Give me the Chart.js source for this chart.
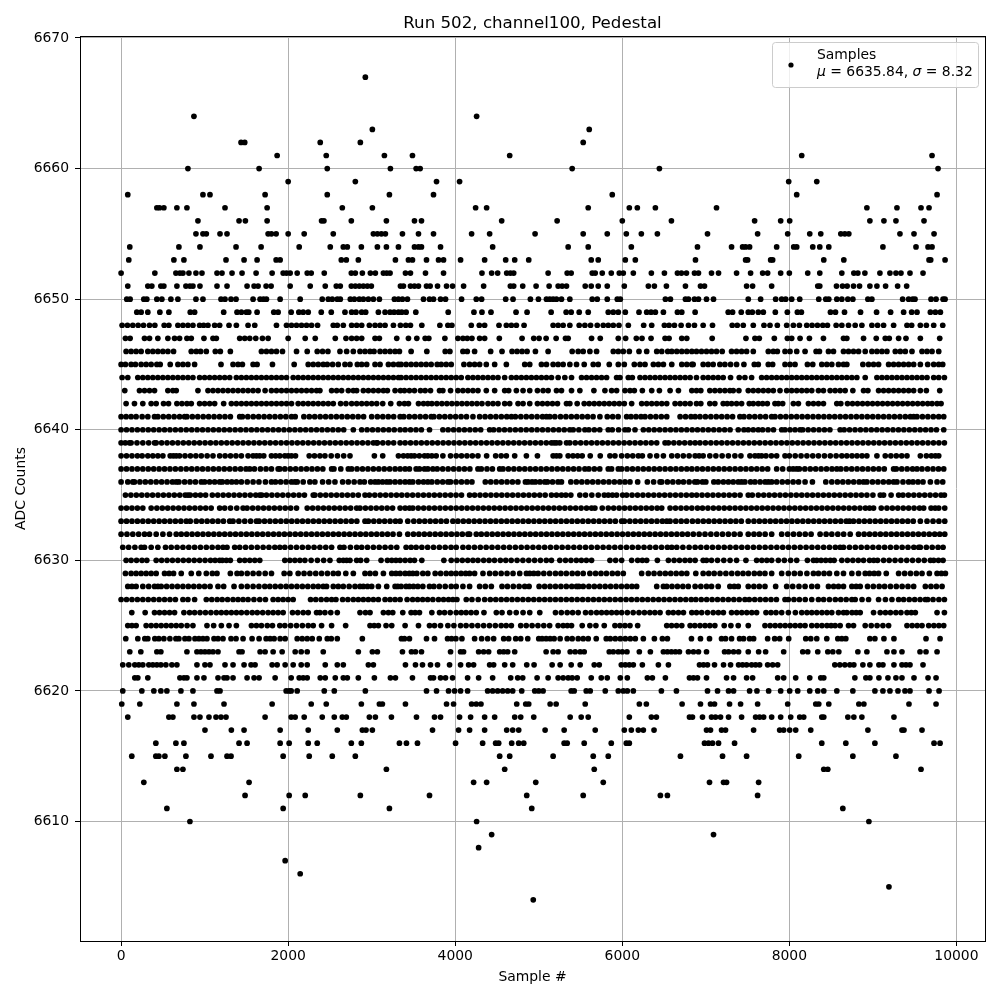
<!DOCTYPE html>
<html>
<head>
<meta charset="utf-8">
<title>Run 502, channel100, Pedestal</title>
<script src="https://cdn.jsdelivr.net/npm/chart.js@4/dist/chart.umd.min.js"></script>
<style>
body { margin: 0; background: #fff; }
canvas { display: block; }
</style>
</head>
<body>
<canvas id="chart" width="1000" height="1000"></canvas>
<script>
"use strict";

const xTicks = [0, 2000, 4000, 6000, 8000, 10000];
const yTicks = [6610, 6620, 6630, 6640, 6650, 6660, 6670];

/* sample numbers, one list per ADC count. */
const s6604 = [4934];
const s6605 = [9192];
const s6606 = [2144];
const s6607 = [1964];
const s6608 = [4280];
const s6609 = [4436, 7092];
const s6610 = [824, 4256, 8952];
const s6611 = [548, 1940, 3212, 4916, 8640];
const s6612 = [1484, 2012, 2204, 2864, 3692, 4856, 5532, 6456, 6540, 7620];
const s6613 = [272, 1532, 4220, 4376, 4964, 5772, 7044, 7212, 7248, 7632];
const s6614 = [668, 740, 3176, 4592, 5664, 8412, 8460, 9576];
const s6615 = [128, 416, 452, 524, 776, 1076, 1268, 1316, 1940, 2252, 2528, 2804, 4532, 4652, 5172, 5652, 5832, 6696, 7200, 7488, 8112, 8760, 9276];
const s6616 = [416, 656, 752, 1412, 1508, 1904, 2012, 2240, 2348, 2756, 2876, 3332, 3416, 3548, 4004, 4328, 4484, 4520, 4676, 4760, 4820, 5304, 5340, 5544, 5868, 6048, 6084, 6984, 7032, 7080, 7152, 7344, 8388, 8676, 9024, 9732, 9804];
const s6617 = [1004, 1320, 1472, 1904, 2240, 2588, 2888, 2932, 3008, 3728, 4040, 4172, 4352, 4616, 4688, 4760, 5076, 5304, 5676, 6024, 6108, 6192, 6252, 6380, 7008, 7056, 7188, 7236, 7572, 7884, 7932, 8004, 8076, 8256, 8940, 9348, 9372, 9588];
const s6618 = [80, 572, 620, 872, 944, 1052, 1136, 1196, 1256, 1724, 2036, 2084, 2192, 2408, 2552, 2648, 2696, 2972, 3044, 3236, 3536, 3752, 3824, 4052, 4184, 4352, 4472, 4712, 4784, 4940, 5376, 5508, 5592, 6084, 6348, 6408, 6804, 6840, 6960, 7068, 7116, 7176, 7272, 7428, 7596, 7644, 7692, 7788, 7896, 8016, 8124, 8172, 8388, 8412, 8700, 8772, 8868, 9252];
const s6619 = [8, 224, 668, 872, 1232, 1808, 2276, 2456, 2876, 3092, 3128, 3404, 3896, 3980, 4196, 4252, 4308, 4736, 4844, 4880, 5136, 5208, 5556, 6204, 6288, 6716, 6936, 7056, 7104, 7284, 7416, 7620, 7980, 8316, 8352, 8472, 8832, 8892, 9432, 9756];
const s6620 = [20, 248, 392, 476, 548, 716, 860, 1148, 1184, 1976, 2012, 2036, 2108, 2432, 2552, 2924, 3656, 3776, 3920, 3992, 4064, 4148, 4388, 4448, 4508, 4568, 4628, 4688, 4796, 4952, 5000, 5052, 5388, 5424, 5568, 5616, 5796, 5952, 6012, 6060, 6132, 6468, 6648, 7020, 7140, 7272, 7332, 7524, 7612, 7752, 7896, 8004, 8100, 8244, 8340, 8412, 8568, 8760, 9024, 9120, 9204, 9300, 9384, 9444, 9672, 9792];
const s6621 = [164, 200, 320, 704, 752, 788, 908, 992, 1160, 1232, 1268, 1340, 1508, 1592, 1652, 1844, 2036, 2132, 2180, 2228, 2384, 2444, 2564, 2660, 2708, 2840, 3032, 3224, 3284, 3488, 3704, 3740, 3824, 3884, 3968, 4148, 4280, 4448, 4664, 4748, 4808, 4980, 5112, 5232, 5292, 5352, 5400, 5460, 5628, 5748, 5820, 5976, 6060, 6300, 6360, 6516, 6804, 6852, 6900, 7008, 7248, 7332, 7488, 7560, 7860, 7932, 8076, 8244, 8376, 8412, 8784, 8916, 8964, 9072, 9180, 9276, 9348, 9492, 9660, 9756];
const s6622 = [20, 92, 164, 212, 260, 332, 380, 428, 476, 536, 608, 668, 908, 1004, 1064, 1244, 1340, 1472, 1556, 1604, 1808, 1868, 1964, 2060, 2156, 2228, 2444, 2588, 2660, 2960, 3020, 3404, 3524, 3608, 3704, 3788, 3932, 4064, 4160, 4220, 4412, 4460, 4592, 4688, 4856, 4944, 5160, 5256, 5388, 5496, 5664, 5724, 5988, 6036, 6084, 6132, 6240, 6432, 6552, 6924, 6972, 7020, 7104, 7212, 7296, 7392, 7440, 7488, 7548, 7596, 7644, 7740, 7800, 7860, 8544, 8604, 8664, 8724, 8772, 8880, 8964, 9072, 9120, 9252, 9348, 9396, 9444, 9600];
const s6623 = [104, 236, 428, 476, 788, 908, 956, 1004, 1052, 1100, 1160, 1412, 1448, 1664, 1724, 1820, 1928, 2084, 2156, 2228, 2420, 2840, 3008, 3068, 3368, 3476, 3524, 3596, 3944, 4064, 4100, 4280, 4340, 4400, 4532, 4580, 4628, 4712, 5088, 5172, 5232, 5376, 5436, 5496, 5544, 5844, 5892, 5952, 6000, 6056, 6204, 6336, 6492, 6540, 6588, 6636, 6684, 6792, 6852, 6912, 7008, 7224, 7272, 7332, 7392, 7508, 7632, 7716, 7932, 8160, 8220, 8340, 8460, 8520, 8592, 8820, 8928, 9168, 9252, 9348, 9564, 9636, 9768];
const s6624 = [56, 200, 284, 320, 404, 452, 512, 584, 656, 692, 764, 812, 884, 932, 980, 1028, 1112, 1160, 1220, 1316, 1376, 1460, 1568, 1652, 1736, 1784, 1832, 1904, 1964, 2108, 2168, 2228, 2288, 2372, 2468, 2516, 2588, 2888, 3356, 3392, 3452, 3656, 3752, 3908, 3956, 4008, 4080, 4232, 4316, 4388, 4460, 4580, 4640, 4724, 4784, 4868, 5000, 5040, 5088, 5136, 5184, 5256, 5340, 5400, 5472, 5532, 5592, 5688, 5808, 5856, 5916, 5976, 6036, 6096, 6156, 6252, 6384, 6480, 6540, 6828, 6936, 7044, 7188, 7236, 7308, 7404, 7452, 7524, 7572, 7740, 7824, 7884, 7992, 8196, 8256, 8328, 8448, 8580, 8628, 8676, 8964, 9024, 9132, 9252, 9636, 9804];
const s6625 = [80, 130, 180, 300, 360, 420, 480, 540, 600, 660, 720, 790, 860, 1028, 1108, 1200, 1292, 1380, 1560, 1620, 1680, 1750, 1812, 1900, 1960, 2030, 2100, 2170, 2240, 2300, 2400, 2520, 2688, 2980, 3030, 3080, 3172, 3240, 3400, 3560, 3692, 3752, 3824, 3912, 3984, 4064, 4130, 4200, 4270, 4340, 4410, 4480, 4550, 4610, 4672, 4784, 4850, 4920, 4990, 5060, 5130, 5232, 5292, 5342, 5392, 5520, 5612, 5684, 5784, 5912, 5972, 6032, 6092, 6184, 6532, 6590, 6650, 6712, 6812, 6868, 6930, 6990, 7048, 7108, 7220, 7300, 7388, 7508, 7708, 7770, 7830, 7890, 7950, 8010, 8070, 8130, 8188, 8268, 8330, 8390, 8450, 8500, 8548, 8608, 8708, 8768, 8908, 8980, 9050, 9120, 9188, 9408, 9470, 9530, 9588, 9668, 9730, 9790, 9848];
const s6626 = [128, 288, 400, 460, 520, 580, 640, 752, 820, 880, 945, 1010, 1075, 1140, 1200, 1260, 1320, 1380, 1440, 1505, 1570, 1630, 1695, 1760, 1820, 1880, 1940, 2052, 2115, 2180, 2240, 2340, 2380, 2440, 2510, 2588, 2860, 2925, 2980, 3140, 3200, 3252, 3372, 3472, 3520, 3572, 3720, 3812, 3872, 3940, 4012, 4072, 4130, 4190, 4252, 4344, 4492, 4560, 4652, 4730, 4812, 4892, 5012, 5200, 5270, 5340, 5405, 5472, 5560, 5625, 5692, 5752, 5812, 5872, 5932, 5992, 6060, 6130, 6200, 6265, 6330, 6390, 6452, 6552, 6610, 6672, 6732, 6832, 6888, 6950, 7020, 7088, 7150, 7210, 7308, 7370, 7430, 7490, 7550, 7608, 7720, 7780, 7840, 7908, 7988, 8072, 8148, 8210, 8268, 8328, 8390, 8450, 8508, 8588, 8648, 8688, 8750, 8800, 8848, 9008, 9088, 9150, 9210, 9275, 9336, 9408, 9460, 9508, 9768, 9856];
const s6627 = [0, 65, 130, 195, 260, 325, 390, 455, 520, 585, 650, 740, 800, 880, 1020, 1085, 1150, 1210, 1275, 1340, 1400, 1460, 1520, 1590, 1660, 1728, 1820, 1880, 1940, 2000, 2060, 2268, 2330, 2395, 2460, 2520, 2572, 2652, 2715, 2780, 2840, 2900, 2960, 3020, 3080, 3160, 3220, 3280, 3340, 3424, 3490, 3550, 3610, 3670, 3732, 3800, 3860, 3920, 3972, 4020, 4132, 4200, 4275, 4352, 4420, 4485, 4550, 4615, 4680, 4745, 4810, 4875, 4940, 5005, 5070, 5135, 5200, 5265, 5330, 5395, 5460, 5525, 5590, 5655, 5720, 5785, 5850, 5915, 5980, 6045, 6110, 6175, 6240, 6305, 6370, 6435, 6500, 6565, 6630, 6695, 6760, 6825, 6880, 6945, 7010, 7075, 7140, 7205, 7270, 7335, 7400, 7468, 7520, 7585, 7650, 7715, 7780, 7845, 7948, 7988, 8055, 8120, 8190, 8268, 8348, 8410, 8480, 8550, 8615, 8680, 8748, 8788, 8870, 8948, 9068, 9150, 9228, 9308, 9368, 9435, 9500, 9565, 9628, 9656, 9720, 9790, 9856];
const s6628 = [80, 130, 180, 260, 330, 400, 440, 480, 545, 610, 675, 740, 805, 870, 935, 1000, 1065, 1160, 1228, 1352, 1440, 1510, 1580, 1650, 1720, 1780, 1845, 1910, 1975, 2040, 2105, 2170, 2235, 2300, 2360, 2420, 2460, 2540, 2600, 2660, 2730, 2800, 2860, 2900, 2950, 3000, 3080, 3180, 3280, 3312, 3352, 3412, 3452, 3500, 3552, 3612, 3692, 3744, 3810, 3880, 3952, 4012, 4092, 4172, 4292, 4360, 4432, 4560, 4625, 4695, 4765, 4832, 4884, 5004, 5070, 5135, 5200, 5265, 5330, 5395, 5452, 5480, 5532, 5600, 5665, 5730, 5795, 5860, 5925, 5990, 6055, 6115, 6172, 6412, 6492, 6532, 6595, 6660, 6725, 6790, 6872, 6940, 7008, 7068, 7148, 7288, 7340, 7388, 7508, 7575, 7640, 7708, 7836, 7968, 8040, 8115, 8188, 8268, 8336, 8468, 8530, 8588, 8648, 8748, 8800, 8848, 8936, 9005, 9075, 9140, 9210, 9280, 9350, 9420, 9488, 9628, 9695, 9760, 9828];
const s6629 = [52, 120, 180, 240, 300, 360, 420, 520, 575, 628, 720, 840, 930, 1020, 1092, 1148, 1308, 1388, 1440, 1510, 1580, 1650, 1725, 1800, 1952, 2020, 2120, 2190, 2260, 2330, 2400, 2470, 2540, 2600, 2690, 2780, 2920, 2980, 3044, 3140, 3240, 3290, 3340, 3400, 3450, 3492, 3540, 3612, 3672, 3760, 3825, 3892, 3952, 4010, 4070, 4125, 4172, 4232, 4332, 4412, 4480, 4550, 4620, 4692, 4772, 4852, 4892, 4940, 4992, 5060, 5130, 5200, 5265, 5330, 5400, 5465, 5532, 5612, 5680, 5745, 5810, 5880, 5945, 6012, 6232, 6312, 6380, 6450, 6515, 6580, 6645, 6710, 6772, 6880, 6968, 7035, 7100, 7170, 7240, 7310, 7380, 7445, 7510, 7580, 7645, 7708, 7788, 7908, 7988, 8060, 8130, 8210, 8288, 8348, 8415, 8480, 8568, 8648, 8748, 8828, 8908, 8960, 9015, 9068, 9160, 9308, 9380, 9450, 9520, 9588, 9676, 9768, 9820, 9868];
const s6630 = [60, 120, 185, 250, 308, 420, 485, 550, 615, 680, 745, 810, 875, 940, 1005, 1070, 1125, 1180, 1212, 1260, 1308, 1420, 1480, 1540, 1600, 1660, 1960, 2020, 2080, 2140, 2200, 2275, 2350, 2425, 2500, 2612, 2660, 2700, 2740, 2820, 2868, 2940, 3112, 3188, 3240, 3290, 3340, 3400, 3460, 3512, 3600, 3864, 3952, 4020, 4085, 4150, 4212, 4272, 4340, 4405, 4470, 4540, 4605, 4670, 4740, 4810, 4880, 4950, 5020, 5090, 5152, 5252, 5320, 5385, 5450, 5510, 5570, 5632, 5852, 5920, 5992, 6112, 6184, 6240, 6292, 6420, 6552, 6620, 6685, 6750, 6810, 6872, 6968, 7008, 7068, 7140, 7215, 7290, 7368, 7480, 7608, 7670, 7730, 7788, 7868, 7940, 8015, 8088, 8216, 8288, 8328, 8380, 8435, 8490, 8536, 8628, 8695, 8760, 8825, 8888, 8960, 9010, 9056, 9128, 9195, 9265, 9335, 9405, 9475, 9545, 9615, 9688, 9728, 9785, 9840];
const s6631 = [20, 90, 165, 240, 280, 360, 440, 532, 600, 670, 740, 810, 880, 950, 1020, 1090, 1160, 1220, 1268, 1360, 1420, 1490, 1560, 1630, 1700, 1770, 1840, 1900, 1960, 2030, 2100, 2170, 2240, 2310, 2380, 2450, 2520, 2620, 2668, 2745, 2820, 2880, 2950, 3020, 3090, 3160, 3230, 3300, 3412, 3472, 3532, 3600, 3670, 3740, 3810, 3880, 3950, 4012, 4092, 4160, 4230, 4300, 4370, 4440, 4510, 4580, 4650, 4720, 4790, 4860, 4930, 5000, 5070, 5140, 5210, 5280, 5350, 5420, 5490, 5560, 5630, 5700, 5770, 5840, 5910, 5980, 6050, 6120, 6190, 6260, 6330, 6400, 6470, 6540, 6592, 6652, 6725, 6800, 6872, 6940, 7010, 7080, 7150, 7220, 7290, 7360, 7430, 7500, 7570, 7640, 7710, 7780, 7850, 7920, 7990, 8060, 8130, 8200, 8270, 8340, 8410, 8480, 8550, 8608, 8648, 8720, 8790, 8860, 8930, 9000, 9070, 9140, 9210, 9280, 9350, 9420, 9490, 9548, 9568, 9640, 9710, 9780, 9840];
const s6632 = [0, 70, 140, 210, 280, 340, 420, 500, 580, 660, 720, 785, 850, 915, 980, 1045, 1110, 1175, 1240, 1305, 1370, 1435, 1500, 1565, 1630, 1695, 1760, 1825, 1890, 1955, 2020, 2085, 2150, 2215, 2280, 2345, 2410, 2475, 2540, 2605, 2670, 2735, 2800, 2865, 2930, 2995, 3060, 3125, 3190, 3255, 3332, 3432, 3500, 3565, 3630, 3695, 3760, 3825, 3890, 3955, 4020, 4085, 4152, 4172, 4252, 4312, 4378, 4443, 4508, 4573, 4638, 4703, 4768, 4833, 4898, 4963, 5028, 5093, 5158, 5223, 5288, 5353, 5418, 5483, 5548, 5613, 5678, 5743, 5808, 5873, 5938, 6003, 6068, 6133, 6198, 6263, 6328, 6393, 6458, 6523, 6588, 6653, 6718, 6783, 6850, 6920, 6990, 7060, 7130, 7200, 7270, 7340, 7410, 7508, 7576, 7640, 7710, 7788, 7908, 7980, 8050, 8120, 8190, 8260, 8368, 8440, 8508, 8580, 8650, 8728, 8828, 8895, 8960, 9025, 9090, 9155, 9220, 9285, 9350, 9415, 9480, 9545, 9610, 9675, 9740, 9800, 9860];
const s6633 = [0, 65, 130, 195, 260, 325, 390, 455, 520, 585, 650, 715, 780, 828, 900, 965, 1030, 1095, 1160, 1225, 1300, 1340, 1410, 1480, 1550, 1620, 1652, 1717, 1782, 1847, 1912, 1977, 2042, 2107, 2172, 2237, 2302, 2367, 2432, 2497, 2562, 2627, 2692, 2757, 2822, 2920, 2960, 3025, 3090, 3155, 3220, 3285, 3340, 3432, 3504, 3570, 3635, 3700, 3765, 3830, 3895, 3972, 4032, 4097, 4162, 4227, 4292, 4357, 4422, 4487, 4552, 4617, 4682, 4747, 4812, 4877, 4942, 5007, 5072, 5137, 5202, 5267, 5332, 5397, 5462, 5527, 5592, 5657, 5722, 5787, 5852, 5917, 5992, 6024, 6090, 6155, 6220, 6285, 6350, 6415, 6480, 6532, 6572, 6640, 6705, 6770, 6840, 6905, 6970, 7035, 7100, 7165, 7230, 7295, 7360, 7425, 7508, 7576, 7641, 7706, 7771, 7836, 7901, 7966, 8031, 8096, 8161, 8226, 8291, 8356, 8421, 8486, 8551, 8616, 8681, 8720, 8768, 8833, 8898, 8963, 9028, 9093, 9158, 9223, 9288, 9353, 9418, 9483, 9568, 9648, 9720, 9790, 9860];
const s6634 = [0, 65, 130, 195, 260, 360, 428, 493, 558, 623, 688, 753, 818, 883, 948, 1013, 1078, 1180, 1240, 1310, 1385, 1460, 1508, 1575, 1640, 1705, 1770, 1835, 1900, 1965, 2030, 2100, 2228, 2293, 2358, 2423, 2488, 2553, 2618, 2683, 2748, 2820, 2860, 2925, 2990, 3055, 3120, 3185, 3250, 3340, 3400, 3452, 3492, 3557, 3622, 3687, 3752, 3817, 3882, 3947, 4012, 4077, 4142, 4207, 4272, 4337, 4402, 4467, 4532, 4597, 4662, 4727, 4792, 4857, 4922, 4987, 5052, 5117, 5182, 5247, 5312, 5377, 5442, 5507, 5572, 5632, 5672, 5760, 5832, 5897, 5962, 6027, 6092, 6157, 6222, 6287, 6352, 6417, 6472, 6572, 6637, 6702, 6767, 6832, 6900, 6960, 7025, 7090, 7155, 7220, 7285, 7350, 7415, 7480, 7545, 7610, 7675, 7740, 7805, 7870, 7935, 8000, 8065, 8130, 8195, 8260, 8325, 8390, 8455, 8520, 8585, 8650, 8715, 8780, 8845, 8910, 8960, 9008, 9100, 9168, 9233, 9298, 9363, 9428, 9493, 9558, 9608, 9696, 9745, 9788, 9860];
const s6635 = [52, 117, 182, 247, 312, 377, 442, 507, 572, 637, 702, 767, 800, 828, 890, 950, 1012, 1092, 1157, 1222, 1287, 1352, 1417, 1482, 1547, 1612, 1660, 1684, 1740, 1805, 1870, 1935, 2000, 2065, 2130, 2195, 2300, 2320, 2385, 2450, 2515, 2580, 2645, 2710, 2775, 2840, 2920, 2972, 3037, 3102, 3167, 3232, 3297, 3360, 3425, 3490, 3555, 3620, 3685, 3750, 3815, 3880, 3945, 4010, 4075, 4172, 4232, 4297, 4362, 4427, 4492, 4557, 4622, 4687, 4752, 4817, 4882, 4947, 5012, 5077, 5152, 5212, 5272, 5324, 5384, 5492, 5560, 5635, 5712, 5784, 5832, 5882, 5932, 6004, 6052, 6117, 6182, 6247, 6312, 6377, 6442, 6507, 6572, 6637, 6702, 6767, 6832, 6890, 6955, 7020, 7085, 7150, 7215, 7280, 7345, 7410, 7508, 7556, 7628, 7693, 7758, 7823, 7888, 7953, 8018, 8083, 8148, 8213, 8278, 8343, 8408, 8473, 8538, 8603, 8668, 8733, 8798, 8863, 8928, 9000, 9088, 9128, 9218, 9308, 9360, 9425, 9490, 9555, 9620, 9685, 9750, 9815, 9856];
const s6636 = [0, 80, 140, 160, 225, 290, 355, 420, 485, 550, 615, 660, 692, 760, 825, 890, 960, 1000, 1060, 1120, 1180, 1212, 1270, 1325, 1380, 1440, 1510, 1580, 1650, 1728, 1800, 1848, 1910, 1975, 2040, 2080, 2108, 2180, 2260, 2320, 2412, 2485, 2560, 2652, 2720, 2790, 2860, 2912, 2988, 3040, 3080, 3130, 3180, 3220, 3280, 3340, 3400, 3452, 3492, 3560, 3620, 3672, 3720, 3785, 3850, 3912, 3944, 4010, 4075, 4140, 4200, 4360, 4425, 4490, 4555, 4620, 4685, 4750, 4840, 4872, 4920, 4960, 5015, 5072, 5104, 5165, 5230, 5272, 5384, 5450, 5515, 5580, 5645, 5710, 5775, 5840, 5905, 5970, 6032, 6092, 6184, 6300, 6375, 6452, 6472, 6540, 6605, 6672, 6732, 6800, 6868, 6900, 6960, 7000, 7096, 7148, 7210, 7270, 7328, 7388, 7428, 7468, 7536, 7588, 7650, 7710, 7748, 7788, 7848, 7915, 7980, 8045, 8110, 8188, 8276, 8436, 8508, 8575, 8640, 8705, 8770, 8835, 8888, 8928, 8995, 9060, 9125, 9190, 9248, 9288, 9360, 9428, 9480, 9540, 9600, 9688, 9768, 9836];
const s6637 = [0, 65, 130, 195, 260, 325, 390, 455, 520, 585, 650, 715, 780, 845, 910, 975, 1040, 1105, 1170, 1235, 1300, 1365, 1430, 1495, 1540, 1596, 1668, 1735, 1800, 1880, 1900, 1960, 2025, 2090, 2155, 2220, 2285, 2350, 2415, 2520, 2548, 2630, 2720, 2760, 2825, 2890, 2955, 3020, 3085, 3150, 3215, 3280, 3340, 3400, 3452, 3532, 3572, 3632, 3672, 3732, 3784, 3850, 3915, 3980, 4045, 4110, 4175, 4272, 4312, 4380, 4445, 4532, 4572, 4637, 4702, 4767, 4832, 4897, 4962, 5027, 5092, 5157, 5222, 5287, 5352, 5417, 5482, 5552, 5600, 5665, 5730, 5832, 5872, 5952, 5992, 6057, 6122, 6187, 6252, 6317, 6382, 6447, 6512, 6577, 6642, 6707, 6772, 6832, 6896, 6960, 7025, 7090, 7155, 7220, 7285, 7350, 7415, 7480, 7545, 7610, 7675, 7740, 7848, 7920, 8000, 8045, 8088, 8120, 8185, 8250, 8315, 8380, 8445, 8510, 8568, 8616, 8681, 8746, 8811, 8876, 8941, 9006, 9071, 9136, 9248, 9280, 9345, 9410, 9475, 9528, 9588, 9655, 9720, 9785, 9848];
const s6638 = [0, 65, 130, 195, 252, 320, 380, 440, 500, 588, 625, 660, 700, 765, 830, 895, 960, 1030, 1100, 1180, 1245, 1310, 1375, 1440, 1520, 1580, 1620, 1660, 1708, 1800, 1850, 1900, 1960, 2000, 2040, 2088, 2252, 2315, 2380, 2440, 2515, 2590, 2665, 2740, 3032, 3132, 3320, 3380, 3430, 3472, 3512, 3570, 3632, 3672, 3720, 3772, 3852, 3944, 4012, 4075, 4140, 4205, 4272, 4376, 4484, 4550, 4612, 4712, 4852, 4984, 5172, 5212, 5252, 5352, 5410, 5465, 5520, 5616, 5736, 5852, 5912, 5992, 6060, 6125, 6192, 6240, 6332, 6412, 6492, 6592, 6660, 6730, 6800, 6872, 6920, 6968, 7048, 7120, 7195, 7270, 7348, 7420, 7528, 7588, 7630, 7668, 7720, 7785, 7848, 7948, 8000, 8070, 8140, 8210, 8280, 8348, 8420, 8490, 8560, 8628, 8688, 8750, 8810, 8870, 8928, 9048, 9148, 9215, 9280, 9345, 9408, 9568, 9640, 9700, 9748, 9788];
const s6639 = [0, 50, 100, 120, 190, 260, 330, 400, 420, 485, 550, 615, 680, 745, 810, 875, 940, 1005, 1070, 1135, 1200, 1265, 1330, 1395, 1460, 1525, 1590, 1655, 1720, 1785, 1850, 1915, 1980, 2045, 2110, 2175, 2240, 2305, 2370, 2435, 2500, 2565, 2630, 2695, 2760, 2825, 2890, 2955, 3020, 3060, 3068, 3133, 3198, 3263, 3340, 3400, 3465, 3530, 3595, 3660, 3725, 3790, 3855, 3920, 3985, 4050, 4115, 4180, 4245, 4310, 4375, 4440, 4505, 4570, 4635, 4700, 4765, 4830, 4895, 4960, 5025, 5090, 5152, 5184, 5212, 5252, 5332, 5372, 5437, 5502, 5567, 5632, 5697, 5762, 5827, 5892, 5957, 6022, 6087, 6152, 6217, 6282, 6347, 6412, 6512, 6552, 6617, 6682, 6747, 6812, 6872, 6930, 6995, 7060, 7125, 7190, 7255, 7320, 7385, 7450, 7515, 7580, 7645, 7710, 7775, 7840, 7905, 7970, 8035, 8100, 8165, 8230, 8295, 8360, 8425, 8490, 8555, 8620, 8685, 8750, 8815, 8880, 8945, 9010, 9075, 9140, 9205, 9270, 9335, 9400, 9465, 9530, 9595, 9660, 9725, 9790, 9856];
const s6640 = [0, 65, 130, 195, 260, 325, 390, 455, 520, 585, 650, 715, 780, 845, 910, 975, 1040, 1105, 1170, 1235, 1300, 1365, 1430, 1495, 1560, 1625, 1690, 1755, 1820, 1885, 1950, 2015, 2080, 2145, 2210, 2275, 2340, 2405, 2470, 2535, 2600, 2665, 2780, 2880, 2945, 3010, 3075, 3140, 3205, 3270, 3340, 3400, 3465, 3530, 3595, 3692, 3852, 3915, 3980, 4045, 4110, 4175, 4240, 4305, 4412, 4460, 4525, 4590, 4655, 4720, 4785, 4850, 4915, 4980, 5045, 5110, 5175, 5240, 5305, 5372, 5412, 5480, 5552, 5600, 5665, 5730, 5832, 5880, 5955, 6032, 6072, 6152, 6252, 6317, 6382, 6447, 6512, 6577, 6642, 6707, 6772, 6837, 6900, 6965, 7030, 7095, 7160, 7225, 7290, 7388, 7456, 7508, 7568, 7628, 7680, 7745, 7810, 7908, 7948, 8008, 8068, 8128, 8160, 8225, 8290, 8355, 8420, 8485, 8608, 8656, 8721, 8786, 8851, 8916, 8981, 9046, 9111, 9176, 9241, 9306, 9371, 9436, 9501, 9566, 9631, 9696, 9761, 9848];
const s6641 = [0, 60, 120, 180, 252, 320, 400, 440, 505, 570, 635, 700, 760, 788, 853, 918, 983, 1048, 1113, 1178, 1243, 1308, 1420, 1452, 1517, 1582, 1647, 1712, 1777, 1842, 1907, 1972, 2040, 2084, 2188, 2253, 2318, 2383, 2448, 2513, 2578, 2643, 2708, 2773, 2838, 2903, 3000, 3068, 3133, 3198, 3263, 3340, 3384, 3450, 3515, 3580, 3645, 3712, 3744, 3810, 3875, 3940, 4005, 4070, 4135, 4212, 4292, 4357, 4422, 4487, 4552, 4617, 4672, 4720, 4785, 4850, 4915, 4980, 5045, 5092, 5132, 5192, 5260, 5325, 5390, 5455, 5520, 5585, 5650, 5732, 5820, 5885, 5950, 6052, 6104, 6164, 6224, 6272, 6337, 6402, 6467, 6532, 6692, 6757, 6822, 6872, 6930, 6995, 7060, 7125, 7190, 7255, 7320, 7408, 7456, 7521, 7586, 7651, 7716, 7788, 7828, 7893, 7958, 8023, 8088, 8153, 8218, 8283, 8348, 8413, 8478, 8543, 8608, 8673, 8738, 8803, 8868, 8933, 8998, 9063, 9128, 9193, 9258, 9323, 9388, 9448, 9488, 9528, 9593, 9658, 9723, 9788, 9848];
const s6642 = [60, 160, 260, 360, 420, 508, 568, 668, 728, 788, 840, 940, 1000, 1060, 1120, 1228, 1320, 1380, 1440, 1500, 1560, 1620, 1680, 1740, 1800, 1860, 1920, 1980, 2040, 2120, 2180, 2240, 2300, 2360, 2420, 2480, 2540, 2628, 2692, 2760, 2820, 2880, 2940, 3000, 3060, 3132, 3228, 3332, 3392, 3440, 3560, 3620, 3672, 3720, 3780, 3840, 3900, 3960, 4020, 4080, 4140, 4200, 4260, 4320, 4392, 4452, 4512, 4592, 4652, 4752, 4812, 4892, 4984, 5044, 5104, 5164, 5224, 5332, 5372, 5460, 5544, 5604, 5664, 5724, 5784, 5844, 5904, 5964, 6024, 6112, 6232, 6292, 6352, 6412, 6472, 6532, 6632, 6692, 6752, 6812, 6888, 6940, 7048, 7108, 7208, 7256, 7308, 7368, 7428, 7520, 7568, 7628, 7680, 7736, 7828, 7868, 7920, 8048, 8108, 8228, 8288, 8348, 8408, 8568, 8616, 8696, 8756, 8816, 8876, 8936, 8996, 9056, 9116, 9176, 9236, 9296, 9356, 9416, 9476, 9536, 9596, 9656, 9708, 9768, 9816];
const s6643 = [44, 220, 280, 340, 400, 560, 620, 660, 920, 1040, 1100, 1160, 1220, 1280, 1340, 1400, 1460, 1520, 1580, 1640, 1724, 1800, 1860, 1920, 1980, 2040, 2100, 2160, 2220, 2280, 2340, 2380, 2520, 2580, 2640, 2720, 2780, 2820, 2900, 2960, 3020, 3080, 3140, 3188, 3280, 3344, 3392, 3452, 3512, 3584, 3640, 3704, 3812, 3852, 3944, 4032, 4092, 4152, 4212, 4272, 4372, 4472, 4592, 4640, 4732, 4812, 4892, 4984, 5052, 5112, 5212, 5272, 5392, 5492, 5660, 5792, 5872, 5932, 6032, 6092, 6144, 6240, 6352, 6444, 6572, 6672, 6832, 6888, 6940, 7048, 7108, 7168, 7228, 7288, 7328, 7396, 7508, 7568, 7628, 7688, 7748, 7808, 7888, 7968, 8028, 8088, 8148, 8208, 8268, 8348, 8408, 8488, 8548, 8608, 8668, 8760, 8888, 8940, 9068, 9128, 9188, 9248, 9308, 9368, 9428, 9488, 9568, 9640, 9800];
const s6644 = [12, 80, 200, 260, 320, 380, 440, 500, 560, 620, 680, 740, 800, 860, 940, 1000, 1060, 1120, 1180, 1240, 1300, 1380, 1440, 1500, 1560, 1620, 1680, 1740, 1800, 1860, 1920, 1980, 2060, 2120, 2180, 2240, 2300, 2360, 2420, 2480, 2540, 2600, 2660, 2720, 2780, 2840, 2900, 2960, 3020, 3080, 3140, 3200, 3260, 3320, 3352, 3412, 3472, 3532, 3592, 3652, 3712, 3772, 3832, 3892, 3952, 4012, 4072, 4152, 4212, 4272, 4332, 4392, 4452, 4512, 4592, 4672, 4732, 4792, 4852, 4912, 4972, 5032, 5092, 5152, 5232, 5312, 5392, 5512, 5572, 5632, 5692, 5752, 5812, 5932, 5972, 6072, 6120, 6212, 6272, 6332, 6392, 6452, 6512, 6572, 6632, 6692, 6752, 6812, 6888, 6968, 7028, 7088, 7148, 7208, 7296, 7400, 7468, 7548, 7668, 7728, 7788, 7848, 7908, 7968, 8028, 8088, 8148, 8208, 8268, 8328, 8388, 8448, 8508, 8568, 8628, 8688, 8748, 8808, 8908, 9048, 9108, 9168, 9228, 9288, 9348, 9408, 9468, 9528, 9588, 9648, 9728, 9788, 9856];
const s6645 = [0, 52, 120, 172, 240, 300, 360, 428, 468, 588, 680, 740, 800, 880, 1196, 1340, 1400, 1452, 1580, 1628, 1812, 2072, 2240, 2300, 2360, 2420, 2468, 2532, 2600, 2680, 2740, 2828, 2880, 2940, 3040, 3100, 3200, 3260, 3320, 3352, 3412, 3472, 3532, 3592, 3652, 3712, 3784, 3832, 3892, 3952, 4104, 4172, 4232, 4292, 4372, 4472, 4612, 4832, 4892, 5032, 5092, 5172, 5232, 5292, 5372, 5452, 5544, 5652, 5712, 5844, 5952, 6024, 6144, 6212, 6272, 6372, 6432, 6492, 6592, 6712, 6772, 6832, 6848, 6968, 7028, 7088, 7168, 7228, 7296, 7368, 7456, 7580, 7628, 7748, 7800, 7948, 8008, 8068, 8216, 8280, 8388, 8448, 8508, 8588, 8648, 8688, 8880, 8948, 9008, 9068, 9188, 9248, 9308, 9368, 9428, 9488, 9568, 9656, 9728, 9788, 9836];
const s6646 = [60, 120, 180, 240, 320, 380, 440, 500, 560, 628, 840, 900, 952, 1020, 1128, 1188, 1308, 1680, 1740, 1800, 1860, 1932, 2100, 2228, 2348, 2412, 2476, 2620, 2700, 2780, 2860, 2920, 2980, 3028, 3100, 3160, 3220, 3280, 3332, 3472, 3660, 3880, 3936, 4092, 4144, 4232, 4424, 4560, 4680, 4740, 4800, 4860, 4960, 5112, 5400, 5472, 5532, 5612, 5692, 5892, 5952, 6012, 6084, 6200, 6292, 6412, 6472, 6544, 6592, 6652, 6712, 6772, 6832, 6888, 6948, 7008, 7068, 7128, 7196, 7308, 7368, 7428, 7488, 7568, 7748, 7808, 7856, 7948, 8008, 8088, 8188, 8320, 8360, 8468, 8528, 8648, 8708, 8768, 8828, 8908, 8988, 9048, 9108, 9168, 9268, 9328, 9388, 9468, 9588, 9648, 9708, 9788];
const s6647 = [52, 108, 280, 340, 440, 560, 640, 700, 788, 840, 992, 1100, 1140, 1420, 1480, 1540, 1612, 1692, 1760, 2000, 2204, 2324, 2564, 2692, 2760, 2820, 2880, 3040, 3092, 3300, 3440, 3540, 3640, 3684, 3876, 4032, 4092, 4144, 4200, 4292, 4352, 4528, 4800, 4940, 5004, 5088, 5208, 5320, 5352, 5632, 5736, 5952, 6040, 6168, 6236, 6344, 6512, 6560, 6712, 6772, 7076, 7480, 7588, 7640, 7820, 7976, 8028, 8128, 8240, 8408, 8648, 8688, 8888, 9040, 9148, 9196, 9308, 9396, 9568, 9800];
const s6648 = [12, 76, 140, 204, 268, 340, 404, 516, 572, 680, 740, 800, 860, 940, 988, 1040, 1120, 1180, 1292, 1380, 1520, 1600, 1860, 1980, 2040, 2100, 2160, 2220, 2280, 2352, 2540, 2588, 2660, 2760, 2820, 2880, 2972, 3040, 3100, 3160, 3260, 3344, 3408, 3464, 3600, 3816, 3912, 3960, 4192, 4288, 4352, 4524, 4612, 4672, 4732, 4824, 5172, 5232, 5292, 5372, 5484, 5552, 5620, 5700, 5772, 5832, 5892, 5960, 6072, 6256, 6352, 6504, 6560, 6624, 6704, 6792, 6864, 6968, 7080, 7316, 7376, 7448, 7568, 7696, 7768, 7856, 7968, 8048, 8120, 8208, 8272, 8336, 8400, 8456, 8560, 8628, 8708, 8788, 8868, 8988, 9056, 9128, 9248, 9408, 9464, 9568, 9640, 9728, 9836];
const s6649 = [188, 240, 320, 464, 572, 828, 880, 1228, 1388, 1440, 1500, 1528, 1628, 1828, 1880, 2036, 2128, 2180, 2240, 2396, 2516, 2680, 2760, 2812, 2880, 2928, 3080, 3160, 3220, 3268, 3320, 3360, 3412, 3528, 3916, 4224, 4320, 4428, 4728, 4860, 5148, 5328, 5388, 5484, 5592, 5832, 5892, 5952, 6036, 6200, 6292, 6344, 6396, 6492, 6660, 6712, 6872, 7268, 7320, 7424, 7508, 7556, 7628, 7688, 7832, 7976, 8096, 8144, 8492, 8552, 8660, 8852, 9044, 9212, 9368, 9464, 9528, 9688, 9748, 9808];
const s6650 = [68, 108, 272, 308, 428, 488, 596, 680, 896, 980, 1196, 1244, 1316, 1376, 1580, 1664, 1704, 1740, 1904, 2144, 2408, 2480, 2528, 2588, 2624, 2744, 2792, 2852, 2900, 2960, 3020, 3092, 3272, 3320, 3368, 3428, 3620, 3692, 3740, 3824, 3884, 4076, 4252, 4316, 4604, 4692, 4900, 4996, 5092, 5132, 5172, 5212, 5272, 5372, 5640, 5700, 5820, 5940, 5976, 6516, 6576, 6756, 6792, 6864, 6912, 7008, 7092, 7508, 7656, 7836, 7908, 7956, 8028, 8124, 8352, 8436, 8472, 8568, 8628, 8700, 8760, 8940, 8988, 9356, 9428, 9476, 9504, 9696, 9756, 9840, 9864];
const s6651 = [80, 320, 368, 476, 512, 668, 776, 824, 860, 944, 1148, 1268, 1508, 1592, 1640, 1736, 1796, 2024, 2264, 2444, 2576, 2624, 2756, 2804, 2852, 2900, 2948, 2996, 3344, 3380, 3464, 3512, 3560, 3656, 3700, 3788, 3896, 3968, 4100, 4340, 4660, 4700, 4808, 4968, 5124, 5232, 5280, 5332, 5556, 5628, 5712, 5820, 6024, 6312, 6384, 6528, 6756, 6936, 6984, 7488, 7560, 7788, 8340, 8364, 8564, 8636, 8692, 8768, 8840, 8964, 9048, 9152, 9296, 9404];
const s6652 = [0, 404, 656, 704, 740, 812, 896, 968, 1148, 1208, 1328, 1448, 1616, 1808, 1940, 1980, 2024, 2108, 2228, 2276, 2432, 2756, 2804, 2888, 2984, 3044, 3140, 3180, 3220, 3404, 3464, 3644, 3860, 4320, 4436, 4508, 4616, 4660, 4700, 5112, 5340, 5388, 5640, 5676, 5760, 5868, 5964, 6012, 6132, 6348, 6504, 6660, 6708, 6768, 6864, 6912, 7068, 7152, 7368, 7536, 7680, 7740, 7896, 8000, 8220, 8364, 8628, 8772, 8820, 8904, 9084, 9204, 9276, 9336, 9444, 9600];
const s6653 = [92, 632, 752, 1256, 1472, 1628, 1856, 1904, 2636, 2696, 2840, 3284, 3440, 3488, 3656, 3800, 3860, 4064, 4352, 4604, 4712, 4880, 5628, 5712, 6036, 6156, 6876, 7476, 7500, 7776, 7800, 8412, 8652, 9672, 9692, 9864];
const s6654 = [104, 692, 944, 1376, 1676, 2132, 2504, 2660, 2708, 2876, 3068, 3176, 3320, 3512, 3560, 3596, 3824, 4448, 5352, 5592, 6108, 6900, 7308, 7440, 7476, 7524, 7848, 8052, 8088, 8280, 8364, 8472, 9120, 9516, 9660, 9708];
const s6655 = [896, 980, 1020, 1184, 1268, 1760, 1800, 1856, 2000, 2192, 2540, 3020, 3068, 3116, 3164, 3368, 3560, 3740, 4196, 4412, 4956, 5532, 5820, 6048, 6228, 6420, 7020, 7620, 7980, 8244, 8376, 8616, 8664, 8712, 9324, 9492, 9732];
const s6656 = [920, 1412, 1488, 1748, 2400, 2428, 2756, 3176, 3512, 3596, 4556, 5220, 6000, 6588, 7584, 7896, 8004, 8964, 9132, 9276, 9612];
const s6657 = [428, 460, 512, 668, 788, 1244, 1748, 2648, 3008, 4244, 4376, 5592, 6084, 6180, 6396, 7128, 8928, 9288, 9576, 9672];
const s6658 = [80, 980, 1064, 1724, 2468, 3212, 3740, 5880, 8088, 9768];
const s6659 = [2000, 2804, 3776, 4052, 7992, 8328];
const s6660 = [800, 1652, 2468, 3224, 3532, 3580, 5400, 6444, 9780];
const s6661 = [1868, 2456, 3152, 3488, 4652, 8148, 9708];
const s6662 = [1436, 1480, 2384, 2864, 5532];
const s6663 = [3008, 5604];
const s6664 = [872, 4256];
const s6667 = [2924];

const rows = [
    [6604, s6604], [6605, s6605], [6606, s6606], [6607, s6607], [6608, s6608], [6609, s6609],
    [6610, s6610], [6611, s6611], [6612, s6612], [6613, s6613], [6614, s6614], [6615, s6615],
    [6616, s6616], [6617, s6617], [6618, s6618], [6619, s6619], [6620, s6620], [6621, s6621],
    [6622, s6622], [6623, s6623], [6624, s6624], [6625, s6625], [6626, s6626], [6627, s6627],
    [6628, s6628], [6629, s6629], [6630, s6630], [6631, s6631], [6632, s6632], [6633, s6633],
    [6634, s6634], [6635, s6635], [6636, s6636], [6637, s6637], [6638, s6638], [6639, s6639],
    [6640, s6640], [6641, s6641], [6642, s6642], [6643, s6643], [6644, s6644], [6645, s6645],
    [6646, s6646], [6647, s6647], [6648, s6648], [6649, s6649], [6650, s6650], [6651, s6651],
    [6652, s6652], [6653, s6653], [6654, s6654], [6655, s6655], [6656, s6656], [6657, s6657],
    [6658, s6658], [6659, s6659], [6660, s6660], [6661, s6661], [6662, s6662], [6663, s6663],
    [6664, s6664], [6667, s6667],
];

const points = rows.flatMap(([adc, list]) => list.map(x => ({ x: x, y: adc })));

const font = 'DejaVu Sans';

/* frame, legend and title placement, matplotlib style. */
const framePlugin = {
    id: 'frame',
    afterLayout(chart) {
        chart.titleBlock.left = chart.chartArea.left;
        chart.titleBlock.right = chart.chartArea.right;
    },
    afterDraw(chart) {
        const { ctx, chartArea: a } = chart;
        ctx.save();
        ctx.strokeStyle = '#000';
        ctx.lineWidth = 1;
        ctx.strokeRect(a.left + 0.5, a.top + 0.5, a.right - a.left, a.bottom - a.top);

        ctx.fillStyle = 'rgba(255,255,255,0.8)';
        ctx.strokeStyle = '#cccccc';
        ctx.beginPath();
        ctx.roundRect(772.5, 42.5, 206, 45, 3);
        ctx.fill();
        ctx.stroke();

        ctx.fillStyle = '#000';
        ctx.beginPath();
        ctx.arc(791, 65, 2.6, 0, Math.PI * 2);
        ctx.fill();

        ctx.textBaseline = 'alphabetic';
        ctx.textAlign = 'left';
        ctx.font = `13.9px "${font}"`;
        ctx.fillText('Samples', 817, 59);
        let x = 817;
        [['italic', 'μ'], ['normal', ' = 6635.84, '], ['italic', 'σ'], ['normal', ' = 8.32']].forEach(([style, text]) => {
            ctx.font = `${style} 13.9px "${font}"`;
            ctx.fillText(text, x, 76);
            x += ctx.measureText(text).width;
        });
        ctx.restore();
    }
};

new Chart(document.getElementById('chart'), {
    type: 'scatter',
    data: {
        datasets: [{
            label: 'Samples',
            data: points,
            backgroundColor: '#000',
            borderWidth: 0,
            pointRadius: 2.85,
            pointHoverRadius: 2.85,
        }]
    },
    plugins: [framePlugin],
    options: {
        responsive: false,
        animation: false,
        layout: { padding: { right: 15 } },
        plugins: {
            legend: { display: false },
            tooltip: { enabled: false },
            title: {
                display: true,
                text: 'Run 502, channel100, Pedestal',
                color: '#000',
                font: { family: font, size: 16.67, weight: 'normal' },
                padding: { top: 14, bottom: 2 },
            },
        },
        scales: {
            x: {
                type: 'linear',
                min: -492,
                max: 10342,
                afterBuildTicks: (axis) => { axis.ticks = xTicks.map(v => ({ value: v })); },
                afterFit: (axis) => { axis.height = 59; },
                ticks: {
                    color: '#000',
                    font: { family: font, size: 13.9 },
                    maxRotation: 0,
                    padding: 2,
                    callback: (v) => String(v),
                },
                grid: { color: '#b0b0b0', lineWidth: 1, tickColor: '#000', tickLength: 5 },
                border: { color: '#000' },
                title: {
                    display: true,
                    text: 'Sample #',
                    color: '#000',
                    font: { family: font, size: 13.9 },
                    padding: { top: 4, bottom: 14 },
                },
            },
            y: {
                type: 'linear',
                min: 6600.85,
                max: 6670.15,
                afterBuildTicks: (axis) => { axis.ticks = yTicks.map(v => ({ value: v })); },
                afterFit: (axis) => { axis.width = 80; },
                ticks: {
                    color: '#000',
                    font: { family: font, size: 13.9 },
                    padding: 6,
                    callback: (v) => String(v),
                },
                grid: { color: '#b0b0b0', lineWidth: 1, tickColor: '#000', tickLength: 5 },
                border: { color: '#000' },
                title: {
                    display: true,
                    text: 'ADC Counts',
                    color: '#000',
                    font: { family: font, size: 13.9 },
                    padding: { top: 13, bottom: 4 },
                },
            },
        },
    },
});
</script>
</body>
</html>
